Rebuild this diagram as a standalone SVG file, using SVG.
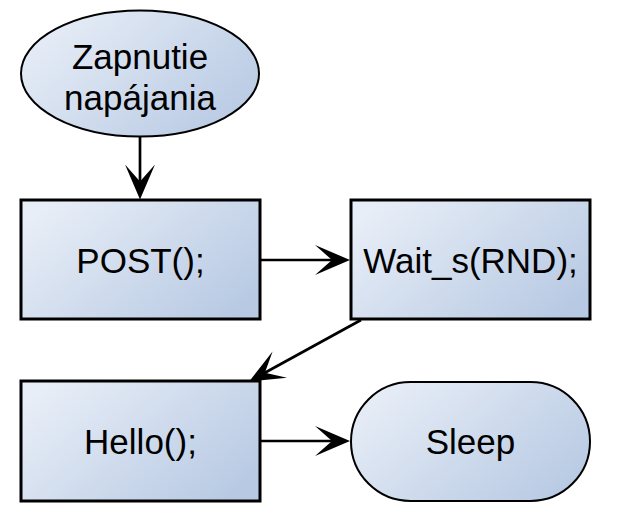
<svg xmlns="http://www.w3.org/2000/svg" width="617" height="532" viewBox="0 0 617 532">
<defs>
<linearGradient id="g" x1="0" y1="0.2" x2="1" y2="0.8">
<stop offset="0" stop-color="#e8eef7"/>
<stop offset="1" stop-color="#b7c9e3"/>
</linearGradient>
<marker id="arr" viewBox="0 0 35 30" markerWidth="35" markerHeight="30" refX="17" refY="15" orient="auto" markerUnits="userSpaceOnUse">
<path d="M0,0 L35,15 L0,30 L17,15 Z" fill="#000"/>
</marker>
</defs>
<style>
.box{fill:url(#g);stroke:#000;stroke-width:3}
.term{fill:url(#g);stroke:#000;stroke-width:2}
.t{font-family:"Liberation Sans",Arial,sans-serif;font-size:35px;fill:#000;text-anchor:middle}
.c{fill:none;stroke:#000;stroke-width:2.7;marker-end:url(#arr)}
</style>
<g id="start">
<ellipse class="term" cx="140" cy="73.5" rx="119" ry="63"/>
<text class="t" x="140" y="69">Zapnutie</text>
<text class="t" x="140" y="110">napájania</text>
</g>
<g id="post">
<rect class="box" x="21" y="200" width="239" height="119"/>
<text class="t" x="140.5" y="272.5">POST();</text>
</g>
<g id="wait">
<rect class="box" x="351" y="200" width="239" height="119"/>
<text class="t" x="470.5" y="272.5">Wait_s(RND);</text>
</g>
<g id="hello">
<rect class="box" x="21" y="381" width="239" height="120"/>
<text class="t" x="140.5" y="453.5">Hello();</text>
</g>
<g id="sleep">
<rect class="term" x="351" y="382" width="239" height="119" rx="59.5" ry="59.5"/>
<text class="t" x="470.5" y="453.5">Sleep</text>
</g>
<g id="connectors">
<line class="c" x1="140" y1="137" x2="140" y2="181.5"/>
<line class="c" x1="260" y1="260" x2="332" y2="260"/>
<line class="c" x1="361" y1="320" x2="264.9" y2="372.8"/>
<line class="c" x1="260" y1="441" x2="332" y2="441"/>
</g>
</svg>
